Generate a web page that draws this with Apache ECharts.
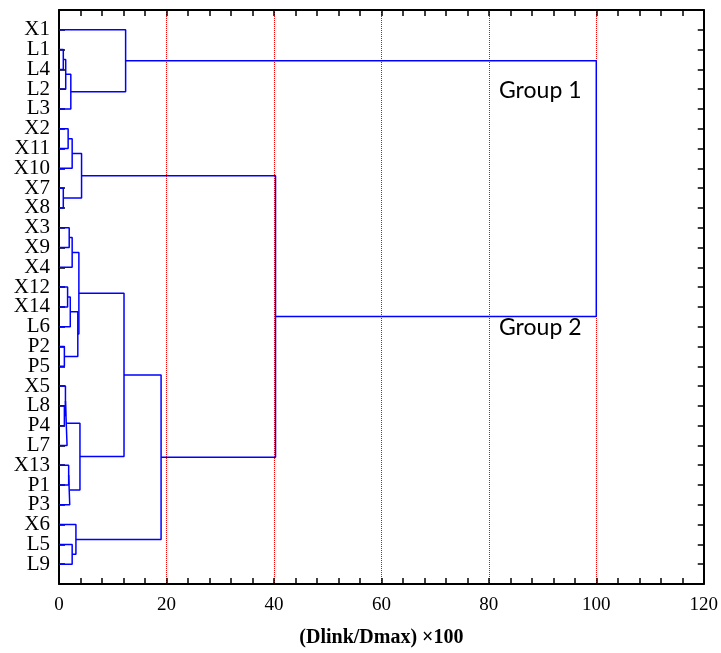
<!DOCTYPE html>
<html>
<head>
<meta charset="utf-8">
<script src="https://cdn.jsdelivr.net/npm/echarts@6/dist/echarts.min.js"></script>
<style>
  html, body { margin: 0; padding: 0; background: #fff; }
  #main { width: 721px; height: 653px; }
</style>
</head>
<body>
<div id="main"></div>
<script>
// leaf order, top to bottom
var leaves = ['X1','L1','L4','L2','L3','X2','X11','X10','X7','X8','X3','X9','X4',
              'X12','X14','L6','P2','P5','X5','L8','P4','L7','X13','P1','P3','X6','L5','L9'];

// merges: [childA, childB, height]; new node id = leaves.length + row index
var merges = [
  [1, 2, 0.8],    // 28 L1-L4
  [28, 3, 1.25],  // 29 +L2
  [29, 4, 2.2],   // 30 +L3
  [0, 30, 12.4],  // 31 X1 + ... (group 1)
  [5, 6, 1.7],    // 32 X2-X11
  [32, 7, 2.45],  // 33 +X10
  [8, 9, 0.8],    // 34 X7-X8
  [33, 34, 4.2],  // 35
  [10, 11, 1.9],  // 36 X3-X9
  [36, 12, 2.45], // 37 +X4
  [13, 14, 1.6],  // 38 X12-X14
  [38, 15, 2.1],  // 39 +L6
  [16, 17, 1.0],  // 40 P2-P5
  [39, 40, 3.5],  // 41
  [37, 41, 3.7],  // 42
  [19, 20, 1.0],  // 43 L8-P4
  [18, 43, 1.2],  // 44 X5+
  [44, 21, 1.5],  // 45 +L7
  [22, 23, 1.8],  // 46 X13-P1
  [46, 24, 2.0],  // 47 +P3
  [45, 47, 3.9],  // 48
  [42, 48, 12.1], // 49
  [26, 27, 2.45], // 50 L5-L9
  [25, 50, 3.15], // 51 X6+
  [49, 51, 19.0], // 52
  [35, 52, 40.3], // 53 (group 2)
  [31, 53, 100]   // 54 root
];

var xTicks = [0, 20, 40, 60, 80, 100, 120];
var groupNames = ['Group 1', 'Group 2'];

// node positions
var nodeX = [], nodeY = [];
for (var i = 0; i < leaves.length; i++) { nodeX.push(0); nodeY.push(i); }
var series = [];
for (var j = 0; j < merges.length; j++) {
  var a = merges[j][0], b = merges[j][1], h = merges[j][2];
  series.push({
    type: 'line',
    symbol: 'none',
    silent: true,
    lineStyle: { color: '#0000ff', width: 1.5 },
    data: [[nodeX[a], nodeY[a]], [h, nodeY[a]], [h, nodeY[b]], [nodeX[b], nodeY[b]]]
  });
  nodeX.push(h);
  nodeY.push((nodeY[a] + nodeY[b]) / 2);
}

var serif = '"Liberation Serif", "DejaVu Serif", serif';
function frameLine() { return { show: true, onZero: false, lineStyle: { color: '#000', width: 2 } }; }
function inTick() { return { show: true, inside: true, length: 6, lineStyle: { color: '#000', width: 1.5 } }; }
function minor() { return { show: true, splitNumber: 5, length: 6, lineStyle: { color: '#000', width: 1.5 } }; }

var myChart = echarts.init(document.getElementById('main'));
var option = {
  animation: false,
  backgroundColor: '#fff',
  grid: { left: 59, right: 16, top: 10, bottom: 69 },
  xAxis: [{
    type: 'value',
    min: xTicks[0], max: xTicks[xTicks.length - 1], interval: 20,
    position: 'bottom',
    name: '(Dlink/Dmax) ×100',
    nameLocation: 'middle',
    nameGap: 44,
    nameTextStyle: { fontFamily: serif, fontWeight: 'bold', fontSize: 20, color: '#000' },
    axisLine: frameLine(),
    axisTick: inTick(),
    minorTick: minor(),
    axisLabel: { fontFamily: serif, fontSize: 19, color: '#000', margin: 12 },
    splitLine: { show: true, lineStyle: { color: '#ff0000', type: 'dotted', width: 1 } }
  }, {
    type: 'value',
    min: xTicks[0], max: xTicks[xTicks.length - 1], interval: 20,
    position: 'top',
    axisLine: frameLine(),
    axisTick: inTick(),
    minorTick: minor(),
    axisLabel: { show: false },
    splitLine: { show: false }
  }],
  yAxis: [{
    type: 'value',
    inverse: true,
    min: -1, max: leaves.length, interval: 1,
    position: 'left',
    axisLine: frameLine(),
    axisTick: inTick(),
    axisLabel: {
      fontFamily: serif, fontSize: 21, color: '#000', margin: 9,
      formatter: function (v) { return leaves[v] || ''; }
    },
    splitLine: { show: false }
  }, {
    type: 'value',
    inverse: true,
    min: -1, max: leaves.length, interval: 1,
    position: 'right',
    axisLine: frameLine(),
    axisTick: inTick(),
    axisLabel: { show: false },
    splitLine: { show: false }
  }],
  graphic: [
    { type: 'text', left: 499, top: 79, style: { text: groupNames[0], font: '23px Lato, "Open Sans", sans-serif', fill: '#000' } },
    { type: 'text', left: 499, top: 316, style: { text: groupNames[1], font: '23px Lato, "Open Sans", sans-serif', fill: '#000' } }
  ],
  series: series
};
myChart.setOption(option);
</script>
</body>
</html>
